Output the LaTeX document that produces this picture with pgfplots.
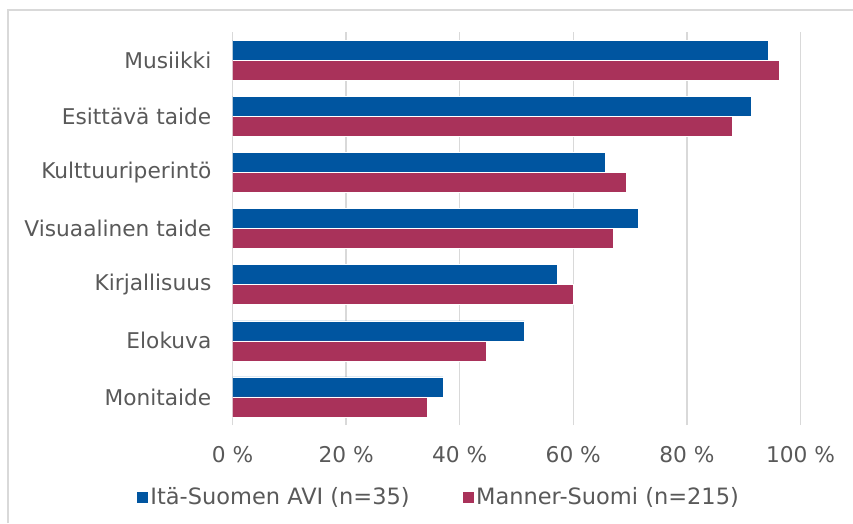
\documentclass[border=0pt]{standalone}
\usepackage{pgfplots}
\pgfplotsset{compat=1.18}
\usepackage{fontspec}
\setmainfont{DejaVu Sans}
\definecolor{cblue}{RGB}{0,85,160}
\definecolor{cred}{RGB}{169,50,90}
\definecolor{ctext}{RGB}{89,89,89}
\definecolor{cgrid}{RGB}{217,217,217}
\begin{document}
\begin{tikzpicture}[x=1pt,y=1pt]
\useasboundingbox (0,0) rectangle (853,523);
\draw[cgrid, line width=1.8pt] (8,0) -- (8,513) -- (853,513);
\begin{axis}[
  at={(232.5pt,98pt)}, anchor=south west,
  scale only axis, width=568pt, height=393pt,
  xbar, bar width=20pt,
  xmin=0, xmax=100, ymin=-0.5, ymax=6.5,
  xtick={0,20,40,60,80,100},
  xticklabels={0 \%,20 \%,40 \%,60 \%,80 \%,100 \%},
  ytick={0,1,2,3,4,5,6},
  yticklabels={Monitaide,Elokuva,Kirjallisuus,Visuaalinen taide,Kulttuuriperintö,Esittävä taide,Musiikki},
  major tick length=0pt,
  xmajorgrids, grid style={cgrid, line width=1.3pt},
  axis y line*=left, axis x line*=bottom,
  x axis line style={draw=none},
  y axis line style={cgrid, line width=1.5pt},
  ticklabel style={font=\fontsize{21.7}{25}\selectfont, text=ctext},
  yticklabel style={inner sep=0pt, anchor=east, xshift=-21pt},
  xticklabel style={inner sep=0pt, anchor=center, yshift=-30pt},
  legend style={draw=none, fill=none, at={(0.3626,-0.183)}, anchor=center,
    font=\fontsize{22.5}{26}\selectfont, text=ctext, legend columns=2,
    /tikz/every even column/.append style={column sep=50pt},
    inner sep=0pt, cells={anchor=west}},
  legend image code/.code={\fill[#1] (0pt,-6pt) rectangle (12pt,6pt);},
]
\addplot[fill=cblue, draw=white, line width=0.4pt, bar shift=10pt] coordinates {
  (37.1,0) (51.4,1) (57.1,2) (71.4,3) (65.7,4) (91.4,5) (94.3,6)};
\addplot[fill=cred, draw=white, line width=0.4pt, bar shift=-10pt] coordinates {
  (34.2,0) (44.7,1) (60.0,2) (67.0,3) (69.4,4) (88.0,5) (96.3,6)};
\legend{Itä-Suomen AVI (n=35),Manner-Suomi (n=215)}
\end{axis}
\end{tikzpicture}
\end{document}
